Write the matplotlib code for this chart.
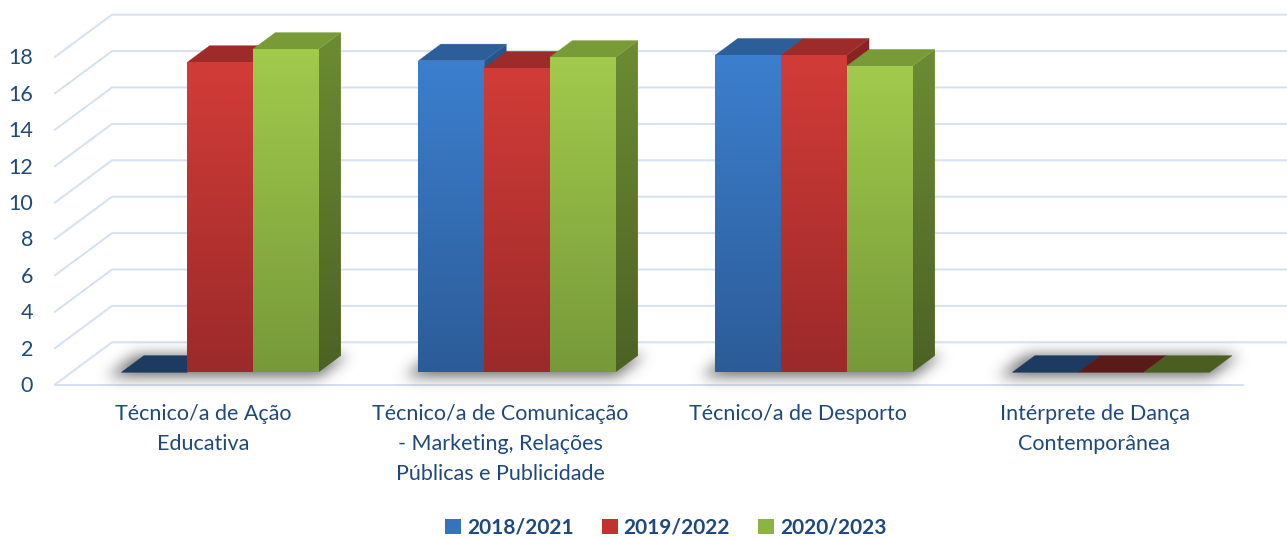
import numpy as np
import matplotlib
matplotlib.use("Agg")
import matplotlib.pyplot as plt
from matplotlib.patches import Polygon, Patch
from matplotlib.colors import LinearSegmentedColormap

# ---------------- data ----------------
categories = ["Técnico/a de Ação\nEducativa",
              "Técnico/a de Comunicação\n- Marketing, Relações\nPúblicas e Publicidade",
              "Técnico/a de Desporto",
              "Intérprete de Dança\nContemporânea"]
series_names = ["2018/2021", "2019/2022", "2020/2023"]
s2018 = [0, 17.12, 17.43, 0]
s2019 = [17.03, 16.72, 17.43, 0]
s2020 = [17.75, 17.31, 16.83, 0]
yticks = [0, 2, 4, 6, 8, 10, 12, 14, 16, 18]

# ---------------- style ----------------
W_PX, H_PX = 1287, 539
PX_PER_CAT = 297.0
PX_PER_VAL = 18.2
X0_PX = 55.0      # left end of front floor line
Y0_PX = 384.5     # value 0 at front plane
DX = 57.0 / PX_PER_CAT       # full depth shift (category units)
DY = 42.2 / PX_PER_VAL       # full depth shift (value units)
ZF, ZB = 0.289, 0.682        # front / back of bars (depth fraction)
BW = 0.2212                  # bar width (category units)

TXT = "#1F497D"
GRID = "#D5E0F0"
styles = [
    dict(ft="#3C7FCE", fb="#2C5C98", top="#2C5E9A", st="#2A5690", sb="#1F4170", zero="#1D3A60", leg="#3572C0"),
    dict(ft="#D23C38", fb="#9B2A2A", top="#9C2B2A", st="#8A2422", sb="#6A1A19", zero="#5A1A18", leg="#C0332F"),
    dict(ft="#A2CA4C", fb="#77993A", top="#789B38", st="#6C8C33", sb="#4C6224", zero="#4A5E22", leg="#8DB344"),
]

plt.rcParams['font.family'] = ['Lato', 'DejaVu Sans']

fig = plt.figure(figsize=(W_PX / 100, H_PX / 100), dpi=100)
ax = fig.add_axes([0, 0, 1, 1])
ax.set_xlim(-0.5 - X0_PX / PX_PER_CAT, -0.5 + (W_PX - X0_PX) / PX_PER_CAT)
ax.set_ylim(-(H_PX - Y0_PX) / PX_PER_VAL, Y0_PX / PX_PER_VAL)
ax.axis("off")


def proj(x, y, z):
    return (x + z * DX, y + z * DY)


def grad_poly(verts, ctop, cbot, zorder):
    verts = np.asarray(verts)
    poly = Polygon(verts, closed=True, facecolor="none", edgecolor="none", zorder=zorder)
    ax.add_patch(poly)
    cmap = LinearSegmentedColormap.from_list("g", [cbot, ctop])
    grad = np.linspace(0, 1, 128).reshape(-1, 1)
    x0, x1 = verts[:, 0].min(), verts[:, 0].max()
    y0, y1 = verts[:, 1].min(), verts[:, 1].max()
    im = ax.imshow(grad, cmap=cmap, extent=(x0, x1, y0, y1), origin="lower",
                   aspect="auto", zorder=zorder, interpolation="bilinear")
    im.set_clip_path(poly)


def flat_poly(verts, color, zorder):
    ax.add_patch(Polygon(verts, closed=True, facecolor=color, edgecolor=color,
                         linewidth=0.3, zorder=zorder))


def shadow(xl, xr, zorder):
    pad_px = 40
    ext_x0 = xl - pad_px / PX_PER_CAT
    ext_x1 = xr + DX + pad_px / PX_PER_CAT
    ext_y0 = -30 / PX_PER_VAL
    ext_y1 = DY + 10 / PX_PER_VAL
    nx = int((ext_x1 - ext_x0) * PX_PER_CAT)
    ny = int((ext_y1 - ext_y0) * PX_PER_VAL)
    xs = np.linspace(ext_x0, ext_x1, nx)
    ys = np.linspace(ext_y0, ext_y1, ny)
    X, Y = np.meshgrid(xs, ys)
    Xs = X + 6 / PX_PER_CAT
    Ys = Y + 3 / PX_PER_VAL
    z = Ys / DY
    xb = Xs - z * DX
    mask = ((z >= ZF - 0.05) & (z <= ZB + 0.05) & (xb >= xl - 0.02) & (xb <= xr + 0.03)).astype(float)
    sig = 7.0
    k = np.exp(-0.5 * (np.arange(-21, 22) / sig) ** 2)
    k /= k.sum()
    mask = np.apply_along_axis(lambda r: np.convolve(r, k, mode="same"), 1, mask)
    mask = np.apply_along_axis(lambda c: np.convolve(c, k, mode="same"), 0, mask)
    rgba = np.zeros((ny, nx, 4))
    rgba[..., :3] = 0.32
    rgba[..., 3] = 0.85 * mask
    ax.imshow(rgba, extent=(ext_x0, ext_x1, ext_y0, ext_y1), origin="lower",
              aspect="auto", zorder=zorder, interpolation="bilinear")


# ---------------- walls / gridlines ----------------
xmin, xmax = -0.5, 3.5
for v in yticks:
    p0 = proj(xmin, v, 0)
    p1 = proj(xmin, v, 1)
    p2 = proj(xmax, v, 1)
    ax.plot([p0[0], p1[0], p2[0]], [p0[1], p1[1], p2[1]], color=GRID, lw=1.4,
            zorder=1, solid_joinstyle="miter")
f0 = proj(xmin, 0, 0)
f1 = proj(xmax, 0, 0)
ax.plot([f0[0], f1[0]], [f0[1], f1[1]], color=GRID, lw=1.4, zorder=1)

# ---------------- bars ----------------
all_series = [s2018, s2019, s2020]
nser = len(all_series)
for i in range(len(categories)):
    gl = i - nser * BW / 2
    gr = i + nser * BW / 2
    shadow(gl, gr, zorder=2)
    for j, vals in enumerate(all_series):
        v = vals[i]
        st = styles[j]
        xl = i + (j - nser / 2) * BW
        xr = xl + BW
        zo = 10 + i * 10 + j * 3
        if v == 0:
            flat_poly([proj(xl, 0, ZF), proj(xr, 0, ZF), proj(xr, 0, ZB), proj(xl, 0, ZB)],
                      st["zero"], zo)
            continue
        grad_poly([proj(xr, 0, ZF), proj(xr, 0, ZB), proj(xr, v, ZB), proj(xr, v, ZF)],
                  st["st"], st["sb"], zo)
        flat_poly([proj(xl, v, ZF), proj(xr, v, ZF), proj(xr, v, ZB), proj(xl, v, ZB)],
                  st["top"], zo + 1)
        grad_poly([proj(xl, 0, ZF), proj(xr, 0, ZF), proj(xr, v, ZF), proj(xl, v, ZF)],
                  st["ft"], st["fb"], zo + 2)

# ---------------- labels ----------------
for v in yticks:
    ax.text(xmin - 22 / PX_PER_CAT, v - 1.5 / PX_PER_VAL, str(v), ha="right", va="center",
            fontsize=15.5, color=TXT)

for i, lab in enumerate(categories):
    ax.text(i, -20 / PX_PER_VAL, lab, ha="center", va="top", fontsize=15.5,
            color=TXT, linespacing=1.6)

handles = [Patch(facecolor=s["leg"], edgecolor="none") for s in styles]
fig.legend(handles, series_names, loc="center", bbox_to_anchor=(666 / W_PX, 1 - 528 / H_PX),
           ncol=3, frameon=False, handlelength=0.75, handleheight=0.75,
           handletextpad=0.3, columnspacing=1.35, borderpad=0.2,
           prop=dict(family=["Lato", "DejaVu Sans"], weight="bold", size=15),
           labelcolor=TXT)

fig.savefig("out.png", dpi=100)
